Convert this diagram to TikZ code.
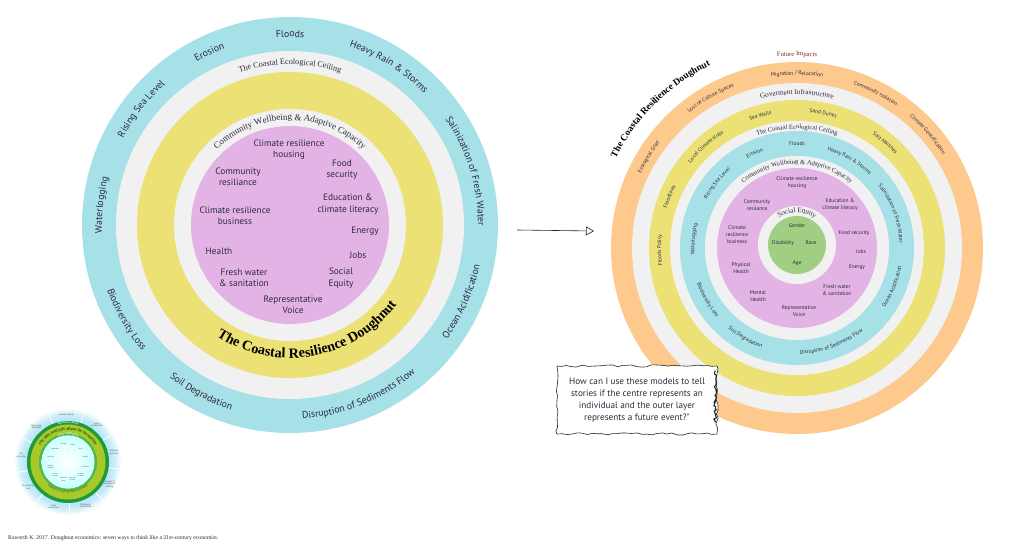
\documentclass[tikz,border=0pt]{standalone}
\usepackage{fontspec}
\setmainfont{Liberation Serif}
\newfontfamily\labfont{PT Sans}
\usetikzlibrary{decorations.text,decorations.pathmorphing,arrows.meta}
\definecolor{cblue}{HTML}{A6E1E7}
\definecolor{cgray}{HTML}{F1F1F1}
\definecolor{cyellow}{HTML}{EBE175}
\definecolor{cpink}{HTML}{E3B3E5}
\definecolor{cgreen}{HTML}{A2CE83}
\definecolor{corange}{HTML}{FDC98C}
\definecolor{ctxt}{HTML}{2D2A3C}
\definecolor{futred}{HTML}{7A2E1E}
\definecolor{rdk}{HTML}{1E9A3A}
\definecolor{ryg}{HTML}{A9C92A}
\definecolor{rmg}{HTML}{4FB848}
\newcommand{\cwtext}[5]{\path[shift={(#1)},decorate,decoration={text along path,text align=center,text={|#4|#5}}] (#3+80:#2) arc[start angle=#3+80,end angle=#3-80,radius=#2];}
\newcommand{\ccwtext}[5]{\path[shift={(#1)},decorate,decoration={text along path,text align=center,text={|#4|#5}}] (#3-80:#2) arc[start angle=#3-80,end angle=#3+80,radius=#2];}
\newcommand\fOut{\labfont\fontsize{9.8}{11}\selectfont\color{ctxt}}
\newcommand\fPL{\labfont\fontsize{9.3}{11.3}\selectfont}
\newcommand\fSerL{\fontsize{8.2}{9}\selectfont\color{ctxt}}
\newcommand\fSerLb{\fontsize{9}{10}\selectfont\color{ctxt}}
\newcommand\fTitleL{\bfseries\fontsize{14.2}{15}\selectfont\color{black}}
\newcommand\fSm{\labfont\fontsize{5.4}{7}\selectfont\color{ctxt}}
\newcommand\fPR{\labfont\fontsize{5.4}{7}\selectfont}
\newcommand\fSerR{\fontsize{6.5}{7}\selectfont\color{ctxt}}
\newcommand\fSocial{\fontsize{7}{8}\selectfont\color{ctxt}}
\newcommand\fGov{\fontsize{7.2}{8}\selectfont\color{ctxt}}
\newcommand\fTitleR{\bfseries\fontsize{9.5}{10}\selectfont\color{black}}
\newcommand\fFut{\fontsize{6.6}{7}\selectfont\color{futred}}
\newcommand\fCall{\labfont\fontsize{9.2}{12}\selectfont}
\newcommand\fCite{\fontsize{5.7}{6}\selectfont}
\newcommand\fTinyA{\labfont\fontsize{4.2}{5}\selectfont\bfseries\color{rdk!60!black}}
\newcommand\fTinyB{\labfont\fontsize{2.2}{2.5}\selectfont\bfseries\color{white}}
\newcommand\fTinyC{\labfont\fontsize{2.2}{2.5}\selectfont\color{rdk!50!black}}
\tikzset{
  plab/.style={font=\fPL, align=center, text=ctxt, inner sep=0pt},
  prlab/.style={font=\fPR, align=center, text=ctxt, inner sep=0pt},
  tinyout/.style={font=\labfont\fontsize{2.3}{2.6}\selectfont, align=center, text=black!70, inner sep=0pt},
  tinyin/.style={font=\labfont\fontsize{1.9}{2.2}\selectfont, align=center, text=black!70, inner sep=0pt},
  callbox/.style={draw=black!85, fill=white, line width=0.6pt, minimum width=160pt, minimum height=68pt,
     align=center, font=\fCall, text=ctxt, decorate, decoration={random steps, segment length=5pt, amplitude=1.2pt}},
}
\begin{document}
\begin{tikzpicture}[x=1pt,y=1pt]
\pgfmathsetseed{7}
\useasboundingbox (0,0) rectangle (1024,547);
\fill[white] (0,0) rectangle (1024,547);
\coordinate (L) at (290,322);
\coordinate (R) at (797,299);
\coordinate (G) at (797,302);
\coordinate (S) at (68,85);

% ---------------- left doughnut
\fill[cblue] (L) circle (208);
\fill[cgray] (L) circle (174);
\fill[cyellow] (L) circle (153);
\fill[cgray] (L) circle (116);
\fill[cpink] (L) circle (99);

\cwtext{L}{188}{90}{\fOut}{Floods}
\cwtext{L}{188}{115}{\fOut}{Erosion}
\cwtext{L}{188}{58}{\fOut}{Heavy Rain {\&} Storms}
\cwtext{L}{188}{142}{\fOut}{Rising Sea Level}
\cwtext{L}{188}{174}{\fOut}{Waterlogging}
\cwtext{L}{188}{17}{\fOut}{Salinization of Fresh Water}
\ccwtext{L}{194}{-24}{\fOut}{Ocean Acidification}
\ccwtext{L}{194}{-68}{\fOut}{Disruption of Sediments Flow}
\ccwtext{L}{194}{-118}{\fOut}{Soil Degradation}
\ccwtext{L}{194}{-150}{\fOut}{Biodiversity Loss}

\cwtext{L}{160.5}{90}{\fSerL}{The Coastal Ecological Ceiling}
\cwtext{L}{105}{90}{\fSerLb}{Community Wellbeing {\&} Adaptive Capacity}
\ccwtext{L}{133}{-80}{\fTitleL}{The Coastal Resilience Doughnut}

\node[plab] (l1) at (289,397) {Climate resilience\\housing};
\node[plab] (l2) at (342,377) {Food\\security};
\node[plab] (l3) at (238,370) {Community\\resiliance};
\node[plab] (l4) at (348,343) {Education \&\\climate literacy};
\node[plab] (l5) at (235,331) {Climate resilience\\business};
\node[plab] (l6) at (365,316) {Energy};
\node[plab] (l7) at (219,296) {Health};
\node[plab] (l8) at (358,292) {Jobs};
\node[plab] (l9) at (244,269) {Fresh water\\\& sanitation};
\node[plab] (l10) at (341,269) {Social\\Equity};
\node[plab] (l11) at (293,242) {Representative\\Voice};

% ---------------- right doughnut
\fill[corange] (R) circle (186);
\fill[cgray] (R) circle (165);
\fill[cyellow] (R) circle (148);
\fill[cgray] (R) circle (127);
\fill[cblue] (R) circle (117);
\fill[cgray] (R) circle (92);
\fill[cpink] (R) circle (80);
\fill[cgray] (G) circle (39);
\fill[cgreen] (G) circle (29);

\cwtext{R}{202}{134.5}{\fTitleR}{The Coastal Resilience Doughnut}
\cwtext{R}{192}{90}{\fFut}{Future Impacts}

\cwtext{R}{173}{148.5}{\fSm}{Ecological Grief}
\cwtext{R}{173}{120}{\fSm}{Loss of Culture Spaces}
\cwtext{R}{173}{90}{\fSm}{Migration / Relocation}
\cwtext{R}{173}{63}{\fSm}{Community isolation}
\cwtext{R}{173}{41}{\fSm}{Climate Gentrification}

\cwtext{R}{153.5}{90}{\fGov}{Goverment Infrastructure}

\cwtext{R}{136}{105.5}{\fSm}{Sea Walls}
\cwtext{R}{136}{79}{\fSm}{Sand Dunes}
\cwtext{R}{136}{50}{\fSm}{Salt Marshes}
\cwtext{R}{136}{132}{\fSm}{Local Climate Hubs}
\cwtext{R}{136}{158}{\fSm}{Floodlines}
\cwtext{R}{136}{181}{\fSm}{Floods Policy}

\cwtext{R}{119}{90}{\fSerR}{The Coastal Ecological Ceiling}

\cwtext{R}{102.5}{175}{\fSm}{Waterlogging}
\cwtext{R}{102.5}{141}{\fSm}{Rising Sea Level}
\cwtext{R}{102.5}{114}{\fSm}{Erosion}
\cwtext{R}{102.5}{90}{\fSm}{Floods}
\cwtext{R}{102.5}{59}{\fSm}{Heavy Rain {\&} Storms}
\cwtext{R}{102.5}{20}{\fSm}{Salinization of Fresh Water}
\ccwtext{R}{106}{-22}{\fSm}{Ocean Acidification}
\ccwtext{R}{106}{-70}{\fSm}{Disruption of Sediments Flow}
\ccwtext{R}{106}{-120}{\fSm}{Soil Degradation}
\ccwtext{R}{106}{-150}{\fSm}{Biodiversity Loss}

\cwtext{R}{84}{90}{\fSerR}{Community Wellbeing {\&} Adaptive Capacity}
\cwtext{G}{32.5}{90}{\fSocial}{Social Equity}

\node[prlab] (r1) at (797,364) {Climate resilience\\housing};
\node[prlab] (r2) at (757,342) {Community\\resilance};
\node[prlab] (r3) at (840,342) {Education \&\\climate literacy};
\node[prlab] (r4) at (737,312) {Climate\\resilience\\business};
\node[prlab] (r5) at (854,314) {Food security};
\node[prlab] (r6) at (861,295) {Jobs};
\node[prlab] (r7) at (857,280) {Energy};
\node[prlab] (r8) at (741,279) {Physical\\Health};
\node[prlab] (r9) at (758,251) {Mental\\Health};
\node[prlab] (r10) at (837,257) {Fresh water\\\& sanitation};
\node[prlab] (r11) at (799,236) {Representative\\Voice};
\node[prlab] (g1) at (797,321) {Gender};
\node[prlab] (g2) at (783,304) {Disability};
\node[prlab] (g3) at (811,304) {Race};
\node[prlab] (g4) at (797,284) {Age};

% ---------------- arrow
\coordinate (a1) at (517,317);
\coordinate (a2) at (594,316);
\draw[line width=0.6pt, black!85, -{Triangle[open, length=8pt, width=9pt]}] (a1) -- (a2);

% ---------------- callout
\node[callbox] (q) at (637,147) {How can I use these models to tell\\stories if the centre represents an\\individual and the outer layer\\represents a future event?"};
\draw[line width=1.1pt, black!85, decorate, decoration={random steps, segment length=2pt, amplitude=1.4pt}]
  ([xshift=-2pt,yshift=-5pt]q.north east) -- ([xshift=-2pt,yshift=12pt]q.south east);

% ---------------- small Raworth doughnut
\foreach \i in {0,...,12} {\fill[cyan!40, opacity=0.09] (S) circle ({53-\i});}
\foreach \a in {112,72,32,-8,-48,-88,-128,-168,152} {\draw[white, line width=0.8pt, shift={(S)}] (\a:40) -- (\a:54);}
\fill[rdk] (S) circle (41);
\fill[ryg] (S) circle (37.5);
\fill[rmg] (S) circle (29);
\fill[white] (S) circle (26.5);
\shade[inner color=white, outer color=cyan!22] (S) circle (26.5);
\foreach \a in {15,45,...,345} {\draw[white, line width=0.6pt, shift={(S)}] (0,0) -- (\a:26);}
\cwtext{S}{32}{90}{\fTinyA}{the safe and just space for humanity}
\cwtext{S}{38.6}{90}{\fTinyB}{ECOLOGICAL CEILING}
\cwtext{S}{27.2}{90}{\fTinyB}{SOCIAL FOUNDATION}
\ccwtext{S}{31}{-90}{\fTinyC}{REGENERATIVE AND DISTRIBUTIVE ECONOMY}
\node[tinyout] (o1) at ([shift={(92:47)}]S) {climate change};
\node[tinyout] (o2) at ([shift={(52:47)}]S) {ocean\\acidification};
\node[tinyout] (o3) at ([shift={(12:47)}]S) {chemical\\pollution};
\node[tinyout] (o4) at ([shift={(-28:47)}]S) {nitrogen \&\\phosphorus\\loading};
\node[tinyout] (o5) at ([shift={(-68:47)}]S) {freshwater\\withdrawals};
\node[tinyout] (o6) at ([shift={(-108:47)}]S) {land\\conversion};
\node[tinyout] (o7) at ([shift={(-148:47)}]S) {biodiversity\\loss};
\node[tinyout] (o8) at ([shift={(172:47)}]S) {air\\pollution};
\node[tinyout] (o9) at ([shift={(132:47)}]S) {ozone layer\\depletion};
\node[tinyin] (i1) at ([shift={(75:18)}]S) {water};
\node[tinyin] (i2) at ([shift={(45:18)}]S) {food};
\node[tinyin] (i3) at ([shift={(15:18)}]S) {health};
\node[tinyin] (i4) at ([shift={(-15:18)}]S) {education};
\node[tinyin] (i5) at ([shift={(-45:18)}]S) {income\\\& work};
\node[tinyin] (i6) at ([shift={(-75:18)}]S) {peace \&\\justice};
\node[tinyin] (i7) at ([shift={(-105:18)}]S) {political\\voice};
\node[tinyin] (i8) at ([shift={(-135:18)}]S) {social\\equity};
\node[tinyin] (i9) at ([shift={(-165:18)}]S) {gender\\equality};
\node[tinyin] (i10) at ([shift={(165:18)}]S) {housing};
\node[tinyin] (i11) at ([shift={(135:18)}]S) {networks};
\node[tinyin] (i12) at ([shift={(105:18)}]S) {energy};

% ---------------- citation
\node[anchor=west, font=\fCite, text=ctxt, inner sep=0pt] (cite) at (8,9) {Raworth K. 2017. Doughnut economics: seven ways to think like a 21st-century economist.};
\end{tikzpicture}
\end{document}
